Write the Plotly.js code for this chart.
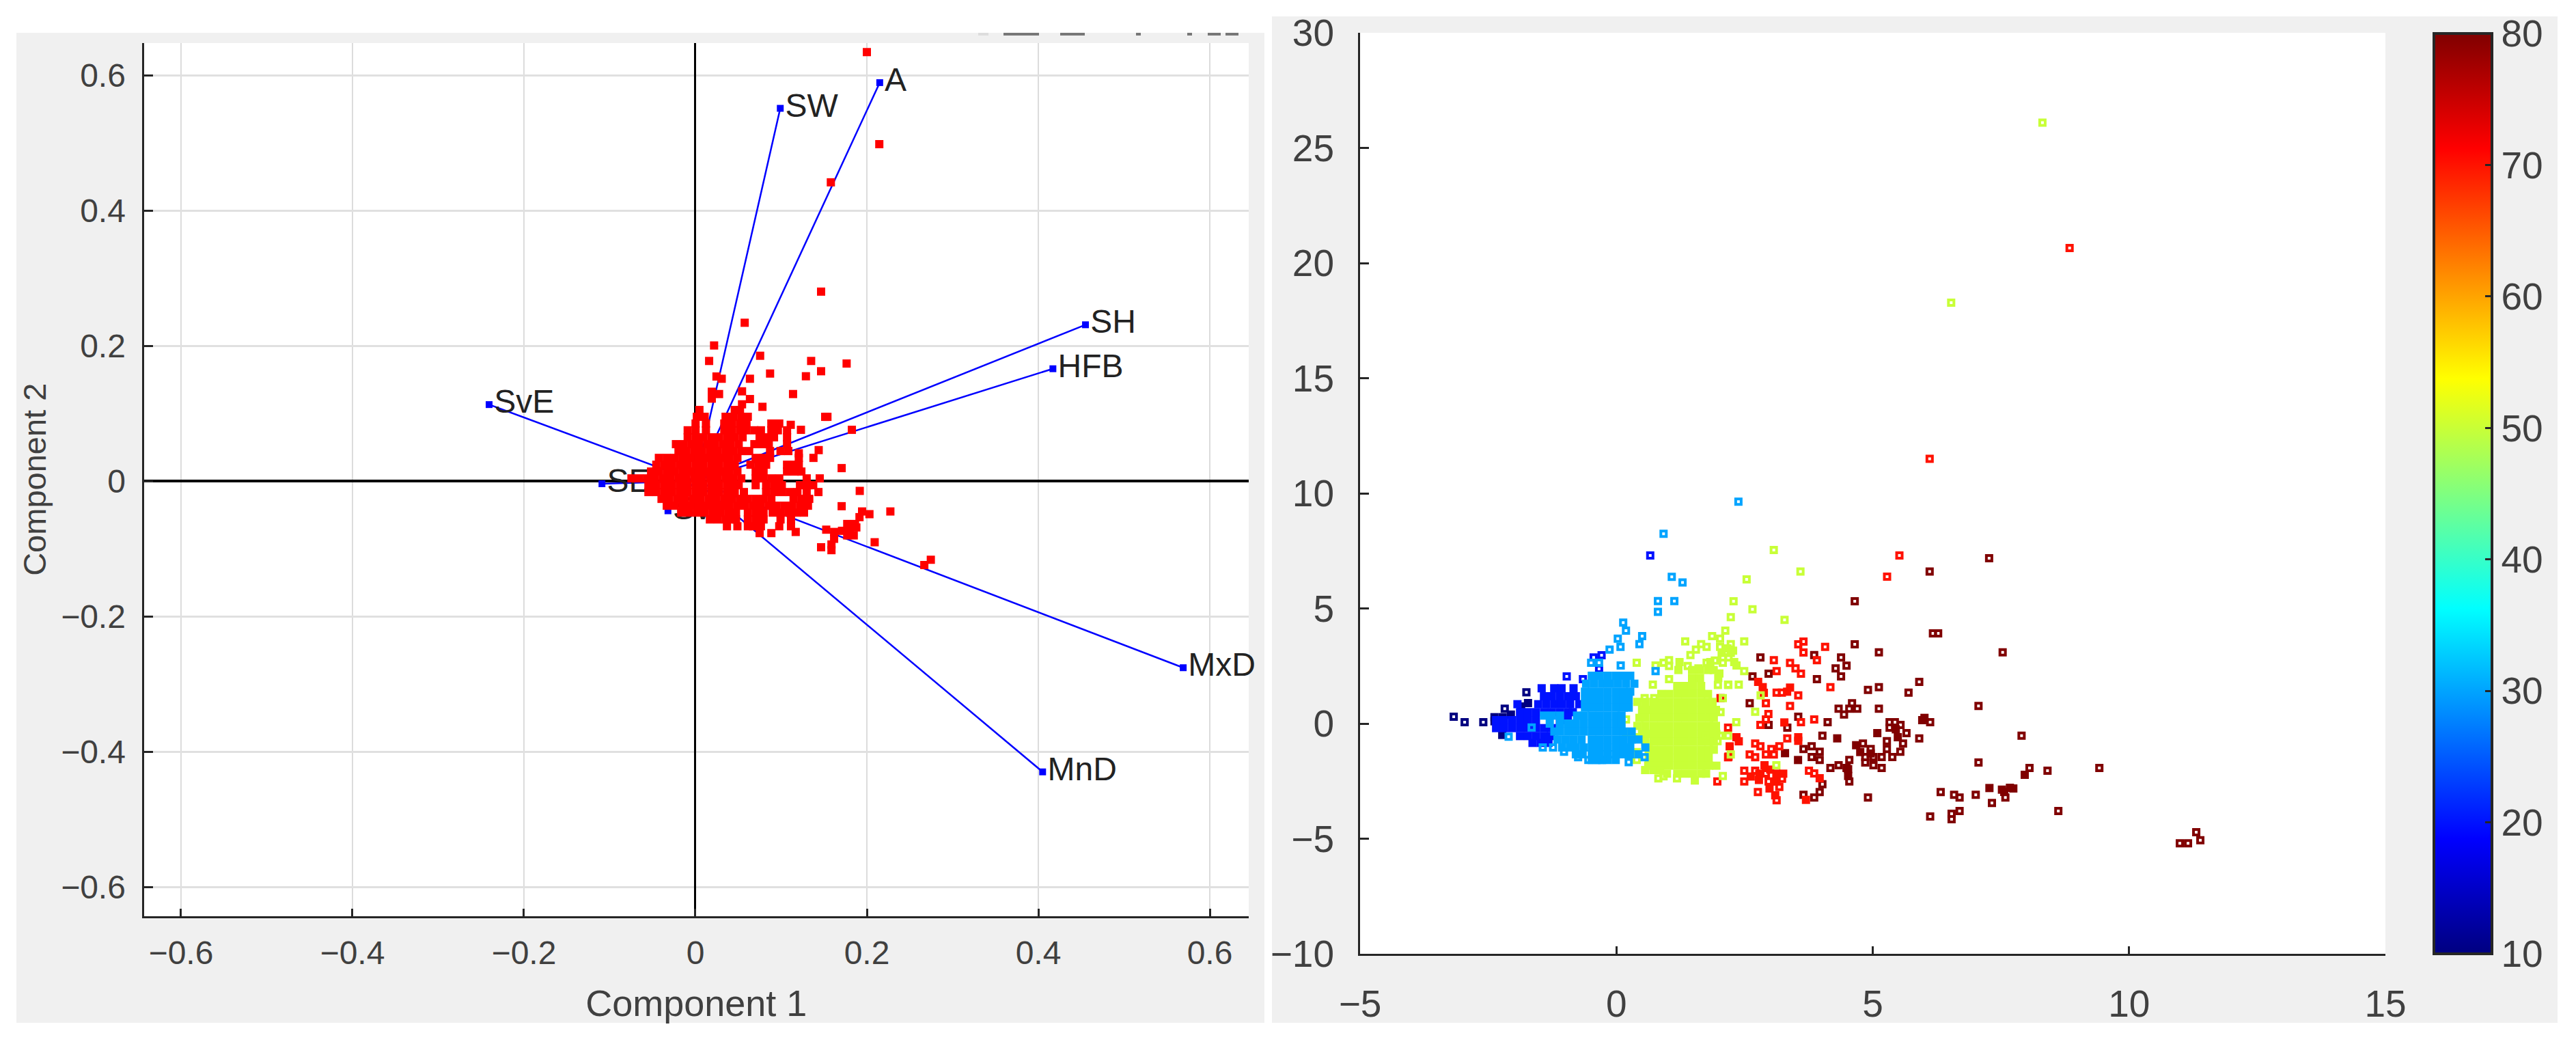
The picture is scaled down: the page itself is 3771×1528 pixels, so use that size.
<!DOCTYPE html>
<html>
<head>
<meta charset="utf-8">
<script src="https://cdn.plot.ly/plotly-3.0.1.min.js"></script>
<style>html,body{margin:0;padding:0;background:#fff}#chart{width:3771px;height:1528px}</style>
</head>
<body>
<div id="chart"></div>
<script>
// ---------- left panel: loadings ----------
const loadingNames = ["A","SW","SH","HFB","SvE","SE","Sv","MxD","MnD"];
const loadingX = [0.215,0.099,0.455,0.417,-0.2406,-0.109,-0.032,0.569,0.405];
const loadingY = [0.589,0.551,0.231,0.166,0.113,-0.004,-0.044,-0.276,-0.430];
const biplotTicks = [-0.6,-0.4,-0.2,0,0.2,0.4,0.6];
const biplotTickText = ["\u22120.6","\u22120.4","\u22120.2","0","0.2","0.4","0.6"];

// scores, dense cloud: [y, [x...]]
const scoreRows = [
[.105,[.0047,.0459,.0520]],
[.095,[.0017,.0108,.0352,.0444,.0535,.0611]],
[.085,[.0002,.0123,.0337,.0428,.0520,.0596,.0886,.0978]],
[.075,[-.0090,.0002,.0123,.0337,.0428,.0520,.0596,.0688,.0764,.0886,.0962,.1069]],
[.0646,[-.0090,.0002,.0093,.0185,.0276,.0368,.0459,.0551,.0749,.0840,.0917,.1069]],
[.0545,[-.0227,-.0136,-.0044,.0047,.0139,.0230,.0322,.0413,.0505,.0688,.0780,.0856,.1069]],
[.0443,[-.0197,-.0105,-.0014,.0078,.0169,.0261,.0352,.0444,.0535,.0627,.0871,.0993,.1084]],
[.0342,[-.0426,-.0334,-.0243,-.0151,-.0060,.0032,.0123,.0215,.0307,.0398,.0490,.0703,.0795,.0871,.1206]],
[.0241,[-.0456,-.0365,-.0273,-.0182,-.0090,.0002,.0093,.0185,.0276,.0368,.0459,.0642,.0734,.0825,.1069,.1160,.1206]],
[.014,[-.0517,-.0426,-.0334,-.0243,-.0151,-.0060,.0032,.0123,.0215,.0307,.0398,.0490,.0703,.0795,.1069,.1160,.1236]],
[.0039,[-.0746,-.0654,-.0563,-.0471,-.0380,-.0288,-.0197,-.0105,-.0014,.0078,.0169,.0261,.0352,.0444,.0535,.0703,.0795,.0886,.0978,.1298,.1450]],
[-.0062,[-.0548,-.0456,-.0365,-.0273,-.0182,-.0090,.0002,.0093,.0185,.0276,.0368,.0459,.0505,.0703,.0825,.0917,.1008,.1220,.1313,.1374]],
[-.0163,[-.0548,-.0456,-.0365,-.0273,-.0182,-.0090,.0002,.0093,.0185,.0276,.0368,.0459,.0566,.0825,.0917,.1008,.1100,.1190,.1298,.1435]],
[-.0264,[-.0395,-.0304,-.0212,-.0121,-.0029,.0062,.0154,.0246,.0337,.0429,.0520,.0612,.0703,.0795,.0886,.1145,.1236,.1328]],
[-.0365,[-.0334,-.0243,-.0151,-.0060,.0032,.0123,.0215,.0307,.0398,.0490,.0581,.0673,.0764,.0856,.0947,.1039,.1130,.1222,.1313]],
[-.0467,[-.0166,-.0075,.0017,.0108,.0200,.0291,.0383,.0474,.0612,.0703,.0795,.0902,.0993,.1084,.1176,.1267]],
[-.0568,[.0169,.0261,.0352,.0444,.0474,.0612,.0703,.0795,.0993,.1115]],
[-.0669,[.0368,.0490,.0612,.0673,.0764,.0978,.1115]],
[-.077,[.0749,.0886]]
];
// scores, scattered: single points
const scoreX = [.2,.2145,.158,.1466,.0575,.0218,.0160,.0755,.1350,.1764,.1466,.1289,.0871,.0636,.0246,.0307,.0191,.0191,.0276,.0544,.0636,.0544,.0782,.1139,.1514,.1540,.1112,.1231,.1825,.1438,.1377,.1206,.1706,.1917,.1706,.2274,.1944,.2030,.1914,.1170,.1526,.1618,.1771,.1862,.1710,.1801,.1877,.1771,.1847,.1618,.1587,.1587,.1466,.2091,.2746,.2670];
const scoreY = [.634,.498,.4416,.28,.234,.2004,.1775,.1852,.1775,.1737,.1623,.1549,.1589,.1512,.1545,.1512,.1320,.1218,.1286,.1326,.1212,.1134,.1097,.1286,.0949,.0949,.0831,.0757,.0757,.0457,.0342,.0410,.0191,-.0146,-.0372,-.0450,-.0450,-.0490,-.0534,-.0753,-.0719,-.0753,-.0635,-.0635,-.0736,-.0736,-.0686,-.0804,-.0804,-.0854,-.0938,-.1022,-.0979,-.0905,-.1164,-.1242];

// ---------- right panel: clusters ----------
const colorbarTicks = [10,20,30,40,50,60,70,80];
const scatterXTicks = [-5,0,5,10,15];
const scatterXText = ["\u22125","0","5","10","15"];
const scatterYTicks = [-10,-5,0,5,10,15,20,25,30];
const scatterYText = ["\u221210","\u22125","0","5","10","15","20","25","30"];
const clusterValues = {darkRed:80, red:70, yellow:50, navy:10, blue:20, sky:30};

const darkRedOpen = [[4.649,5.311],[6.174,3.916],[6.276,3.916],[4.649,3.442],[5.12,3.096],[7.534,3.096],[3.858,2.977],[2.809,2.868],[4.382,2.868],[4.489,2.512],[4.276,2.393],[2.969,2.166],[4.382,2.047],[2.654,2.047],[3.911,1.928],[5.907,1.81],[5.12,1.582],[4.907,1.463],[5.698,1.345],[2.6,.88],[4.596,.88],[4.334,.642],[4.543,.642],[4.698,.642],[5.12,.642],[7.063,.761],[4.44,.395],[3.547,.296],[4.12,.059],[2.969,-.06],[5.329,.059],[5.431,.059],[5.542,-.06],[5.329,-.178],[6.12,.059],[3.334,-.178],[5.658,-.416],[7.903,-.525],[4.018,-.525],[5.907,-.643],[5.276,-.762],[5.591,-.871],[4.809,-.871],[3.809,-.99],[3.649,-1.108],[3.965,-1.227],[4.96,-1.108],[5.276,-1.108],[5.538,-1.227],[3.809,-1.455],[4.854,-1.455],[5.014,-1.455],[5.174,-1.455],[5.382,-1.455],[7.063,-1.692],[3.965,-1.583],[4.543,-1.583],[4.854,-1.692],[8.058,-1.929],[8.409,-2.048],[4.334,-1.81],[4.174,-1.929],[4.489,-1.929],[5.014,-1.81],[5.174,-1.929],[4.543,-2.513],[4.018,-2.631],[3.965,-2.977],[6.325,-2.977],[6.587,-3.096],[6.694,-3.215],[7.009,-3.096],[3.649,-3.096],[3.858,-3.215],[4.907,-3.215],[7.587,-3.215],[7.325,-3.452],[6.694,-3.799],[6.538,-3.917],[6.12,-4.036],[6.538,-4.155],[11.39,-5.07],[11.31,-4.72],[10.99,-5.2],[11.15,-5.2],[9.42,-1.93],[8.62,-3.8],[7.27,7.18],[6.11,6.6]];
const darkRedFill = [[5.089,-.416],[5.489,-.594],[4.307,-.643],[4.676,-.94],[4.756,-1.237],[4.52,-2.275],[4.52,-1.98],[6.009,.247],[5.965,.148],[7.276,-2.8],[7.965,-2.226],[7.52,-2.87],[7.676,-2.79],[7.565,-2.968],[7.742,-2.82],[3.289,-1.286],[3.543,-1.583],[4.96,-1.3],[5.45,-.25]];

const redOpen = [[3.649,3.56],[3.547,3.442],[3.649,3.086],[4.071,3.333],[3.911,2.749],[3.071,2.749],[3.387,2.63],[3.494,2.393],[3.6,2.166],[3.125,2.275],[4.174,1.582],[3.125,1.345],[3.227,1.345],[3.547,1.226],[2.916,.88],[3.387,.761],[2.965,.415],[2.916,.178],[2.809,-.06],[3.6,.059],[3.858,.178],[2.178,-.178],[3.333,-.643],[2.707,-.871],[2.809,-.99],[3.023,-1.108],[3.178,-.99],[2.6,-1.346],[2.707,-1.464],[2.916,-1.346],[3.071,-1.346],[2.494,-2.048],[2.707,-2.048],[2.916,-2.167],[3.231,-2.394],[2.969,-2.513],[3.178,-2.75],[2.76,-2.977],[3.125,-3.334],[2.494,-2.513],[1.969,-2.513],[3.756,-2.048],[3.858,-2.167],[2.031,1.107],[6.11,11.5],[8.84,20.65],[5.52,7.3],[5.28,6.38]];
const redFill = [[2.765,1.81],[2.854,1.582],[2.876,1.335],[3.387,1.562],[3.33,1.384],[3.276,.049],[3.547,-.594],[3.547,-.75],[2.342,-.594],[2.387,-.772],[2.209,-.99],[2.178,-1.464],[2.889,-1.81],[2.787,-2.177],[3.0,-2.0],[3.12,-2.177],[3.254,-2.177],[2.78,-2.45],[3.12,-2.52],[2.987,-2.82],[3.098,-3.116],[3.698,-3.314],[3.965,-2.374],[2.187,-1.434],[2.62,-2.3]];

const yellowOpen = [[8.31,26.1],[6.53,18.28],[3.07,7.54],[3.59,6.6],[2.54,6.26],[2.285,5.31],[2.654,4.965],[2.231,4.62],[3.28,4.5],[2.124,4.036],[1.342,3.571],[1.867,3.798],[2.022,3.69],[2.493,3.571],[1.653,3.452],[1.76,3.334],[1.551,3.215],[1.444,2.977],[2.231,3.452],[2.022,3.334],[1.027,2.75],[.92,2.641],[.396,2.641],[.764,2.522],[1.027,2.5],[1.391,2.5],[1.6,2.394],[2.493,2.275],[1.027,1.929],[.711,1.69],[2.178,1.69],[2.387,1.69],[.551,1.108],[.738,1.108],[2.076,1.108],[2.031,.495],[2.707,.514],[2.338,.06],[1.742,-.524],[2.022,-.524],[2.178,-.524],[1.973,-.761],[2.231,-1.345],[2.076,-2.275],[.818,-2.384],[.92,-2.295],[1.182,-2.384],[2.813,1.227],[.396,-1.582],[.396,-1.236],[.187,.179],[.187,-.396],[.342,-.593],[1.92,2.74],[2.076,2.869],[2.187,2.869],[2.076,2.641],[1.76,2.641],[3.12,-1.81],[2.183,1.68],[1.98,1.68]];
const yellowRows = [
[3.264,[2.165]],[3.165,[2.276]],[3.067,[2.053,2.231]],
[2.671,[1.231,1.831,2.298]],[2.522,[2.343]],
[2.325,[1.209,1.476,1.631,1.787,1.898]],[2.175,[2.009]],
[1.978,[1.476,1.631,1.987]],
[1.632,[1.187,1.342,1.498,1.653]],
[1.286,[.876,1.031,1.187,1.342,1.498,1.653,1.787]],
[.94,[.409,.564,.72,.876,1.031,1.187,1.342,1.498,1.653,1.787,1.876]],
[.594,[.5,.61,.72,.876,1.031,1.187,1.342,1.498,1.653,1.809,1.942]],
[.248,[.45,.564,.72,.876,1.031,1.187,1.342,1.498,1.653,1.809,1.9]],
[-.1,[.409,.564,.72,.876,1.031,1.187,1.342,1.498,1.653,1.809,1.942]],
[-.445,[.5,.61,.72,.876,1.031,1.187,1.342,1.498,1.653,1.8,1.95]],
[-.791,[.564,.72,.876,1.031,1.187,1.342,1.498,1.653,1.809,1.9]],
[-1.137,[.63,.72,.876,1.031,1.187,1.342,1.498,1.653,1.8,1.9]],
[-1.483,[.63,.72,.876,1.031,1.187,1.342,1.498,1.653,1.8]],
[-1.83,[.62,.72,.876,1.031,1.187,1.342,1.498,1.653,1.809,1.95]],
[-2.02,[.56,.72,.85]],
[-2.176,[.987,1.187,1.342,1.498,1.653,1.75]],
[-2.473,[1.53]]
];

const navyOpen = [[-3.173,.297],[-2.96,.06],[-2.596,.06],[-2.178,.643],[-1.756,1.355]];
const navyFill = [[-2.378,.277],[-2.218,.277],[-2.058,.39],[-2.378,.099],[-2.218,.099],[-1.724,.89],[-1.858,.742],[-2.227,-.494]];

const blueOpen = [[-.969,2.048],[-.653,1.929],[-.444,2.869],[-.289,2.968],[-.338,2.374],[.66,7.3]];
const blueRows = [
[1.533,[-1.458,-1.213,-1.07,-.836]],
[1.187,[-1.413,-1.258,-1.102,-.947,-.791]],
[.841,[-1.93,-1.525,-1.369,-1.213,-1.058,-.902,-.724]],
[.495,[-1.88,-1.724,-1.569,-1.41,-1.258,-1.102,-.947,-.85]],
[.149,[-2.347,-2.191,-2.036,-1.88,-1.724,-1.569,-1.102,-.947]],
[-.198,[-2.347,-2.191,-2.036,-1.88,-1.724,-1.569,-1.413,-1.258]],
[-.544,[-1.88,-1.724,-1.569,-1.413,-1.28]],
[-.84,[-1.636,-1.48,-1.324]]
];

const skyOpen = [[-1.436,-1.04],[-1.236,-1.04],[-1.022,-1.226],[-.747,-1.464],[-.547,-1.58],[-.391,-1.58],[-.28,-1.58],[-1.653,-.168],[-2.102,-.573],[.24,-1.68],[.551,-1.464],[.764,2.275],[.084,2.523],[-.493,2.641],[-.338,2.641],[-.133,3.215],[.08,3.334],[.027,3.69],[.449,3.452],[.502,3.798],[.187,4.036],[.133,4.382],[2.38,9.64],[.92,8.24],[1.08,6.37],[1.29,6.13],[.81,5.32],[1.13,5.32],[.81,4.85]];
const skyRows = [
[2.077,[-.48,-.324,-.169,-.013,.142,.27]],
[1.731,[-.591,-.436,-.28,-.124,.031,.187,.35]],
[1.385,[-.613,-.48,-.324,-.169,-.013,.142,.27]],
[1.039,[-.613,-.48,-.324,-.169,-.013,.142,.24]],
[.693,[-.613,-.48,-.324,-.169,-.013,.142,.24]],
[.346,[-1.413,-1.258,-1.102,-.769,-.636,-.48,-.324,-.169,-.013,.1]],
[0,[-1.3,-1.1,-.947,-.791,-.636,-.48,-.324,-.169,-.013,.1]],
[-.346,[-1.21,-1.102,-.947,-.791,-.636,-.48,-.324,-.169,-.013,.142,.298]],
[-.692,[-1.15,-.99,-.836,-.68,-.48,-.324,-.169,-.013,.142,.298,.43]],
[-1.038,[-1.058,-.902,-.791,-.636,-.48,-.324,-.169,-.013,.142,.27,.564]],
[-1.335,[-.791,-.658,-.48,-.324,-.169,-.013,.142,.27,.43]],
[-1.582,[-.48,-.324,-.169,-.013]]
];

// ---------- helpers ----------
function rowsToPairs(rows){const out=[];rows.forEach(r=>r[1].forEach(x=>out.push([x,r[0]])));return out;}
const W=3771,H=1528;
const px=(a,b)=>[a/W,b/W], py=(top,bot)=>[1-bot/H,1-top/H];
const jet=[[0,'#000080'],[0.125,'#0000ff'],[0.375,'#00ffff'],[0.625,'#ffff00'],[0.875,'#ff0000'],[1,'#800000']];
const tickFontColor='#404040';

function cluster(value,open,fill,withBar){
  const xs=[],ys=[],sym=[],size=[],lw=[],col=[];
  fill.forEach(p=>{xs.push(p[0]);ys.push(p[1]);sym.push('square');size.push(12);lw.push(0);col.push(value);});
  open.forEach(p=>{xs.push(p[0]);ys.push(p[1]);sym.push('square-open');size.push(8);lw.push(4);col.push(value);});
  const t={type:'scatter',mode:'markers',x:xs,y:ys,xaxis:'x2',yaxis:'y2',hoverinfo:'x+y',showlegend:false,
    marker:{symbol:sym,size:size,opacity:1,color:col,line:{width:lw},cmin:10,cmax:80,colorscale:jet,showscale:!!withBar}};
  if(withBar){
    t.marker.colorbar={x:3563/W,xanchor:'left',y:1-1396/H,yanchor:'bottom',lenmode:'pixels',len:1347,
      thicknessmode:'pixels',thickness:85,xpad:0,ypad:0,outlinecolor:'#262626',outlinewidth:4,bordercolor:'rgba(0,0,0,0)',
      tickmode:'array',tickvals:colorbarTicks,ticks:'inside',ticklen:12,tickwidth:3,tickcolor:'#262626',tickprefix:'\u2009',
      tickfont:{family:'Liberation Sans, Arial, sans-serif',size:55,color:tickFontColor}};
  }
  return t;
}

// ---------- traces ----------
const lineX=[],lineY=[];
loadingX.forEach((x,i)=>{lineX.push(0,x,null);lineY.push(0,loadingY[i],null);});
const cloud=rowsToPairs(scoreRows);
const traces=[
 {type:'scatter',mode:'lines',x:lineX,y:lineY,line:{color:'#0000ff',width:2.5},hoverinfo:'skip',showlegend:false},
 {type:'scatter',mode:'markers+text',x:loadingX,y:loadingY,text:loadingNames,textposition:'middle right',cliponaxis:false,
  textfont:{family:'Liberation Sans, Arial, sans-serif',size:48,color:'#222222'},
  marker:{symbol:'square',size:10,color:'#0000ff'},showlegend:false},
 {type:'scatter',mode:'markers',x:cloud.map(p=>p[0]).concat(scoreX),y:cloud.map(p=>p[1]).concat(scoreY),
  marker:{symbol:'square',size:12,color:'#ff0000',line:{width:0}},showlegend:false},
 cluster(clusterValues.darkRed,darkRedOpen,darkRedFill,true),
 cluster(clusterValues.red,redOpen,redFill,false),
 cluster(clusterValues.yellow,yellowOpen,rowsToPairs(yellowRows),false),
 cluster(clusterValues.navy,navyOpen,navyFill,false),
 cluster(clusterValues.blue,blueOpen,rowsToPairs(blueRows),false),
 cluster(clusterValues.sky,skyOpen,rowsToPairs(skyRows),false)
];

// ---------- layout ----------
function rect(x0,y0,x1,y1,c){return {type:'rect',xref:'paper',yref:'paper',layer:'below',x0:x0/W,x1:x1/W,y0:1-y1/H,y1:1-y0/H,fillcolor:c,line:{width:0}};}
const shapes=[
 rect(24,48,1851,1497,'#f0f0f0'),rect(1862,24,3744,1497,'#f0f0f0'),
 rect(209,63,1828,1342,'#ffffff'),rect(1991,48,3492,1396,'#ffffff'),
 rect(1432,48,1447,52,'#dddddd'),rect(1469,48,1521,52,'#777777'),rect(1552,48,1588,52,'#777777'),
 rect(1663,48,1670,52,'#777777'),rect(1738,48,1745,52,'#777777'),rect(1768,48,1787,52,'#777777'),rect(1794,48,1813,52,'#777777')
];
const fontLeft={family:'Liberation Sans, Arial, sans-serif',size:48,color:tickFontColor};
const fontRight={family:'Liberation Sans, Arial, sans-serif',size:55,color:tickFontColor};
const axisBase={showline:true,linecolor:'#262626',linewidth:3,mirror:false,ticks:'inside',tickcolor:'#262626',tickwidth:3,tickmode:'array',automargin:false};
const layout={
 width:W,height:H,paper_bgcolor:'#ffffff',plot_bgcolor:'rgba(0,0,0,0)',
 margin:{l:0,r:0,t:0,b:0,autoexpand:false},showlegend:false,shapes:shapes,
 xaxis:Object.assign({},axisBase,{domain:px(210.5,1828),range:[-.6434,.6454],tickvals:biplotTicks,ticktext:biplotTickText,ticklen:11,
   tickfont:fontLeft,ticklabelstandoff:10,showgrid:true,gridcolor:'#dcdcdc',gridwidth:2,zeroline:true,zerolinecolor:'#000000',zerolinewidth:3,
   title:{text:'Component 1',font:{family:'Liberation Sans, Arial, sans-serif',size:54,color:tickFontColor},standoff:30}}),
 yaxis:Object.assign({},axisBase,{domain:py(63,1340.5),range:[-.6429,.6475],tickvals:biplotTicks,ticktext:biplotTickText,ticklen:13,
   tickfont:fontLeft,ticklabelstandoff:14,showgrid:true,gridcolor:'#e0e0e0',gridwidth:3,zeroline:true,zerolinecolor:'#000000',zerolinewidth:4,
   title:{text:'Component 2',font:{family:'Liberation Sans, Arial, sans-serif',size:47,color:tickFontColor},standoff:7}}),
 xaxis2:Object.assign({},axisBase,{domain:px(1991,3492),range:[-5,15],anchor:'y2',tickvals:scatterXTicks,ticktext:scatterXText,ticklen:11,
   tickfont:fontRight,ticklabelstandoff:23,showgrid:false,zeroline:false}),
 yaxis2:Object.assign({},axisBase,{domain:py(48,1396),range:[-10,30],anchor:'x2',tickvals:scatterYTicks,ticktext:scatterYText,ticklen:13,
   tickfont:fontRight,ticklabelstandoff:24,showgrid:false,zeroline:false})
};
Plotly.newPlot('chart',traces,layout,{displayModeBar:false,responsive:false});
</script>
</body>
</html>
